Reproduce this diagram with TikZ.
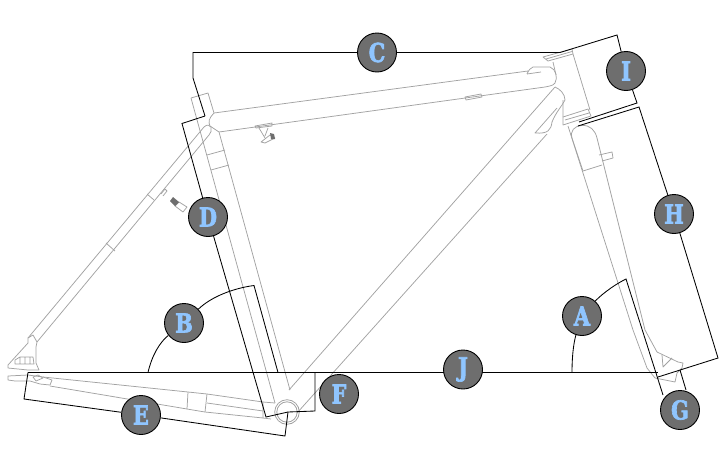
\documentclass[tikz,border=0pt]{standalone}
\usepackage{fontspec}
\newfontfamily\badgefont[FakeStretch=0.8,FakeBold=2.5]{DejaVu Serif Bold}
\usetikzlibrary{backgrounds}
\definecolor{frameline}{HTML}{A2A2A2}
\definecolor{badgefill}{HTML}{6E6E6E}
\definecolor{badgetext}{HTML}{8FC5FF}
\tikzset{
  frame/.style={draw=frameline,line width=0.75pt,line join=round},
  leader/.style={draw=black,line width=0.85pt,line join=miter},
  badge/.style={circle,draw=black,line width=0.9pt,fill=badgefill,minimum size=39pt,inner sep=0pt,text=badgetext,font=\badgefont\fontsize{26}{26}\selectfont}
}
\begin{document}
\begin{tikzpicture}[x=1pt,y=-1pt]
\useasboundingbox (0,0) rectangle (725,463);
\node[badge] (C) at (377,52.5) {C};
\node[badge] (I) at (626,71) {I};
\node[badge] (D) at (208,217) {D};
\node[badge] (H) at (674,214) {H};
\node[badge] (A) at (582,316) {A};
\node[badge] (B) at (184,323) {B};
\node[badge] (J) at (463,369.5) {J};
\node[badge] (F) at (339,394) {F};
\node[badge] (E) at (141,415) {E};
\node[badge] (G) at (680,410) {G};
\coordinate (jleft) at (28,372.5);
\coordinate (jright) at (658,372.5);
\begin{pgfonlayer}{background}
% top tube
\path[frame] (214,113) -- (528,71) (527,74) .. controls (529,70) and (530,68) .. (533,67) -- (550,67) .. controls (556,69) and (558,78) .. (555,83) .. controls (553,86) and (549,86) .. (545,87) -- (219,132);
\path[frame] (527,74) -- (541,72);
% head tube
\path[frame] (543,57) -- (572,49) -- (573,54) -- (548,61) -- cycle (546,59) -- (572,51.5);
\path[frame] (573,54) -- (590,110) (553,62) -- (556,75) (563,100) -- (563,117);
\path[frame] (563,117) -- (588,109) -- (591,116) -- (563,125) -- cycle (565,120) -- (589,113);
% down tube
\path[frame] (555,87) -- (289,390) (555,87) .. controls (560,89) and (565,94) .. (565,100) .. controls (562,106) and (556,112) .. (552,122) .. controls (551,130) and (548,134) .. (535,133) -- (557,108);
\path[frame] (547,134) -- (297,413);
% seat tube and clamp
\path[frame] (191,98) -- (208,93) -- (214,113) .. controls (209,118) and (208,122) .. (210,126) .. controls (213,128) and (216,130) .. (219,132) -- (290,390);
\path[frame] (191,98) -- (275,403);
\path[frame] (207,155) -- (225,150) (211,170) -- (229,165);
% seat stays
\path[frame] (28,338) -- (204,127) .. controls (207,124) and (210,125) .. (211,127) .. controls (212,130) and (211,133) .. (209,135) -- (37,342);
\path[frame] (147,194) -- (154,200) (106,243) -- (115,251) (161,194) -- (165,189) -- (167,191) -- (163,196);
% bolt
\path[frame] (179,202) -- (187,207) -- (183,212) -- (175,206) -- cycle;
\fill[badgefill] (173,197) -- (179,202) -- (175,206) -- (170,201) -- cycle;
% rear dropout
\path[frame] (28,338) -- (33,335) -- (37,342) -- (36,347) -- (36,363) -- (39,370) -- (28,370) -- (8,368) -- (8,365) -- (28,343) -- cycle;
\path[frame] (15,360) -- (20,357) -- (33,357) -- (34,364) -- (15,364) -- cycle (20,357) -- (20,364) (25,357) -- (25,364) (30,357) -- (30,364);
\path[frame] (8,376) -- (28,375) -- (43,377) -- (52,380) -- (50,385) -- (40,384) -- (30,381) -- (15,381) -- (8,380) -- cycle;
\path[frame] (33,377) -- (38,375) -- (43,378) -- (36,381) -- cycle;
% chain stay
\path[frame] (43,377) -- (188,392) -- (207,394) -- (263,402) -- (263,418) -- (205,412) -- (187,409) -- (50,386);
\path[frame] (188,392) -- (187,409) (207,394) -- (205,412) (207,403) -- (263,411);
\path[frame] (263,402) -- (275,403);
\path[frame] (263,418) -- (271,419);
% bottom bracket
\draw[frameline,line width=0.8pt] (287,412) circle (12.3) circle (10.2);
% fork
\path[frame] (568,126) -- (633,330) -- (647,368) -- (655,378);
\path[frame] (597,138) -- (645,330) -- (657,352);
\path[frame] (583,171) -- (572,138) .. controls (570,131) and (574,126) .. (582,125.5) .. controls (590,125) and (595,130) .. (597,138);
\path[frame] (583,171) -- (602,165);
\path[frame] (599,155) -- (612,152) -- (613,158) -- (602,161);
% front dropout
\path[frame] (657,352) -- (678,362) -- (683,363) -- (682,368) -- (677,373) -- (675,382) -- (655,378);
\path[frame] (662,355) -- (663,367) -- (672,358);
% top tube fittings
\path[frame] (465,97) -- (481,94) -- (482,97) -- (466,100) -- cycle;
\path[frame] (255,126) -- (272,123) -- (272,126) -- (256,128) -- cycle (259,128) -- (265,138) (268,128) -- (265,136);
\path[frame] (261,142) -- (270,135) -- (275,138) -- (265,143) -- cycle;
\fill[badgefill] (270,133) -- (274,134) -- (275,139) -- (271,139) -- cycle;
% leaders
\path[leader] (205,116) -- (193,78) -- (193,52.5) -- (C);
\path[leader] (C) -- (560,52.5) -- (617,35) -- (I);
\path[leader] (I) -- (637,103) -- (579,122);
\path[leader] (578,126) -- (639,107) -- (H);
\path[leader] (H) -- (718,358) -- (658,377);
\path[leader] (205,116) -- (182,123.5) -- (D);
\path[leader] (D) -- (266,417) -- (288,412) -- (315,411) -- (315,372.5);
\path[leader] (jleft) -- (jright);
\path[leader] (jleft) -- (24,399) -- (E);
\path[leader] (E) -- (285,436) -- (288,412);
\path[leader] (148,372.5) .. controls (152,355) and (160,342) .. (B);
\path[leader] (B) .. controls (212,296) and (235,288) .. (254,285.5) -- (278,372.5);
\path[leader] (572,372.5) .. controls (572,350) and (575,338) .. (A);
\path[leader] (A) .. controls (598,298) and (610,287) .. (626,279) -- (663,395);
\path[leader] (680,370) -- (686,390);
\end{pgfonlayer}
\end{tikzpicture}
\end{document}
